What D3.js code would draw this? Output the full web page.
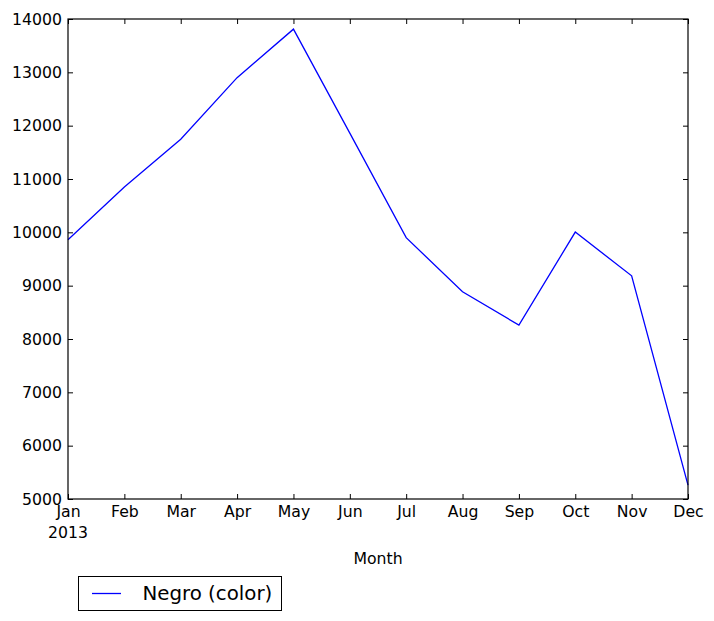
<!DOCTYPE html>
<html><head><meta charset="utf-8">
<script src="https://cdn.jsdelivr.net/npm/d3@7"></script>
<style>
body{margin:0;background:#fff;}
text{font-family:"DejaVu Sans",sans-serif;}
</style></head>
<body><svg id="c" width="714" height="621"></svg>
<script>
const months = ["Jan","Feb","Mar","Apr","May","Jun","Jul","Aug","Sep","Oct","Nov","Dec"];
const values = [9860, 10850, 11745, 12900, 13810, 11860, 9900, 8885, 8260, 10005, 9185, 5260];
const yTicks = [5000,6000,7000,8000,9000,10000,11000,12000,13000,14000];
const seriesName = "Negro (color)";
const year = 2013;

const svg = d3.select("#c");
const L = 68, R = 688, T = 19, B = 499;
const idx = months.map((m,i)=>i);
const x = d3.scaleLinear().domain([0, months.length-1]).range([L,R]);
const y = d3.scaleLinear().domain([5000,14000]).range([B,T]);
const fs = 15.7;

const line = d3.line().x((d,i)=>x(i)).y(d=>y(d));
svg.append("path").datum(values).attr("d",line)
  .attr("fill","none").attr("stroke","#0000ff").attr("stroke-width",1.3);

function styleAxis(g){
  g.select(".domain").remove();
  g.selectAll("line").attr("stroke","#000").attr("stroke-width",1);
  g.selectAll("text").attr("font-size",fs).attr("fill","#000").attr("font-family","DejaVu Sans");
}
const xb = svg.append("g").attr("transform",`translate(0,${B})`)
  .call(d3.axisBottom(x).tickValues(idx).tickFormat(i=>months[i]).tickSizeInner(-5).tickSizeOuter(0).tickPadding(6.5));
styleAxis(xb);
const xt = svg.append("g").attr("transform",`translate(0,${T})`)
  .call(d3.axisTop(x).tickValues(idx).tickFormat("").tickSizeInner(-5).tickSizeOuter(0));
styleAxis(xt);
const yl = svg.append("g").attr("transform",`translate(${L},0)`)
  .call(d3.axisLeft(y).tickValues(yTicks).tickFormat(d3.format("d")).tickSizeInner(-5).tickSizeOuter(0).tickPadding(6));
styleAxis(yl);
const yr = svg.append("g").attr("transform",`translate(${R},0)`)
  .call(d3.axisRight(y).tickValues(yTicks).tickFormat("").tickSizeInner(-5).tickSizeOuter(0));
styleAxis(yr);

svg.append("rect").attr("x",L).attr("y",T).attr("width",R-L).attr("height",B-T)
  .attr("fill","none").attr("stroke","#000").attr("stroke-width",1.2);

svg.append("text").attr("x",x(0)).attr("y",538).attr("text-anchor","middle")
  .attr("font-size",fs).text(year);
svg.append("text").attr("x",(L+R)/2).attr("y",563.5).attr("text-anchor","middle")
  .attr("font-size",fs).text("Month");

svg.append("rect").attr("x",78.5).attr("y",576.5).attr("width",203).attr("height",34)
  .attr("fill","#fff").attr("stroke","#000").attr("stroke-width",1);
svg.append("line").attr("x1",92).attr("x2",121).attr("y1",593.5).attr("y2",593.5)
  .attr("stroke","#0000ff").attr("stroke-width",1.3);
svg.append("text").attr("x",142.5).attr("y",600).attr("font-size",19.8).text(seriesName);
</script></body></html>
